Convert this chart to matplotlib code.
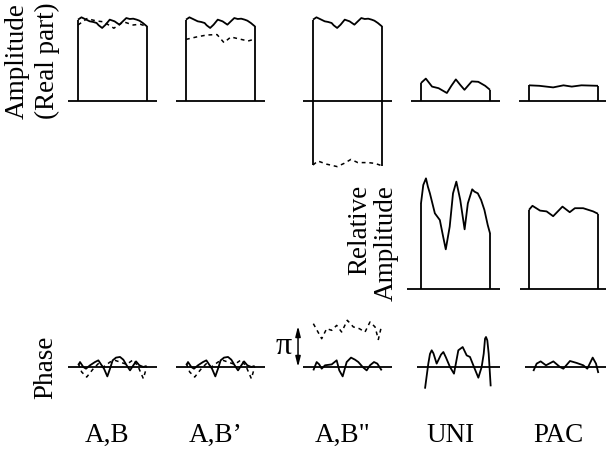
import numpy as np
import matplotlib
matplotlib.use("Agg")
import matplotlib.pyplot as plt

plt.rcParams['font.family'] = ['Liberation Serif', 'DejaVu Serif']

# --- datos -----------------------------------------------------------------
labels = ['A,B', 'A,B\u2019', 'A,B"', 'UNI', 'PAC']

# amplitud (parte real), curva continua comun a A,B / A,B' / A,B"
amp_t = [0, 0.05, 0.12, 0.17, 0.22, 0.27, 0.30, 0.35, 0.40, 0.46, 0.53,
         0.60, 0.65, 0.70, 0.75, 0.80, 0.85, 0.89, 0.94, 0.98, 1.0]
amp_solid = [1.017, 1.046, 1.017, 0.996, 0.988, 0.975, 0.946, 0.913, 0.954,
             1.017, 0.996, 0.954, 0.996, 1.037, 1.025, 1.029, 1.017, 1.004,
             0.975, 0.946, 0.933]

ab_dash_t = [0, 0.13, 0.27, 0.37, 0.52, 0.66, 0.80, 0.90, 0.97]
ab_dash = [0.95, 1.03, 1.00, 0.99, 0.91, 0.99, 0.95, 0.96, 0.94]

abp_dash_t = [0, 0.15, 0.30, 0.45, 0.55, 0.65, 0.80, 0.90, 1.0]
abp_dash = [0.77, 0.80, 0.825, 0.83, 0.73, 0.80, 0.77, 0.75, 0.775]

abpp_dash_t = [0, 0.07, 0.20, 0.35, 0.45, 0.55, 0.65, 0.80, 0.90, 1.0]
abpp_dash = [-0.80, -0.75, -0.79, -0.82, -0.78, -0.73, -0.77, -0.77, -0.78, -0.81]

uni_amp_t = [0, 0.07, 0.16, 0.255, 0.375, 0.44, 0.505, 0.57, 0.63, 0.68,
             0.736, 0.83, 0.93, 1.0]
uni_amp = [0.225, 0.28, 0.18, 0.16, 0.10, 0.19, 0.27, 0.20, 0.14, 0.19,
           0.245, 0.24, 0.19, 0.14]

pac_amp_t = [0, 0.15, 0.35, 0.50, 0.62, 0.76, 1.0]
pac_amp = [0.196, 0.19, 0.17, 0.196, 0.18, 0.196, 0.19]

# amplitud relativa
uni_rel_t = [0, 0.033, 0.072, 0.10, 0.129, 0.201, 0.273, 0.321, 0.359, 0.416,
             0.464, 0.512, 0.569, 0.632, 0.679, 0.742, 0.775, 0.823, 0.871,
             0.919, 0.967, 1.0]
uni_rel = [1.071, 1.30, 1.383, 1.279, 1.196, 0.946, 0.862, 0.654, 0.496, 0.779,
           1.196, 1.342, 1.113, 0.746, 1.071, 1.246, 1.217, 1.196, 1.113,
           0.988, 0.80, 0.696]

pac_rel_t = [0, 0.05, 0.16, 0.255, 0.35, 0.485, 0.59, 0.665, 0.785, 0.93, 1.0]
pac_rel = [0.99, 1.04, 0.98, 0.97, 0.91, 1.03, 0.96, 1.01, 1.01, 0.97, 0.94]

# fase (radianes)
ab_ph_t = [0.005, 0.029, 0.077, 0.116, 0.174, 0.246, 0.295, 0.343, 0.377,
           0.425, 0.464, 0.502, 0.551, 0.609, 0.657, 0.705, 0.754, 0.802,
           0.841, 0.889, 0.947, 0.995]
ab_ph = [0.13, 0.38, 0, -0.13, 0.13, 0.38, 0.51, 0.13, -0.13, -0.72, -0.13,
         0.51, 0.72, 0.77, 0.56, 0.13, -0.26, 0.13, 0.43, 0.13, 0, 0.08]

ab_ph_dash_t = [0.005, 0.053, 0.126, 0.222, 0.295, 0.367, 0.464, 0.536,
                0.609, 0.705, 0.802, 0.874, 0.947, 0.995]
ab_ph_dash = [0.26, -0.38, -0.77, -0.13, 0.26, 0, 0.38, 0.51, 0.38, 0.2,
              0.56, 0, -0.89, 0]

abpp_ph_t = [0.005, 0.053, 0.09, 0.126, 0.174, 0.271, 0.343, 0.381, 0.430,
             0.468, 0.488, 0.551, 0.609, 0.657, 0.720, 0.778, 0.826, 0.884,
             0.932, 0.995]
abpp_ph = [-0.26, 0.38, 0.2, -0.13, 0.13, 0.20, 0.51, -0.26, -0.72, 0, 0.38,
           0.72, 0.56, 0.38, 0, -0.26, 0.13, 0.38, 0.26, -0.26]

abpp_ph_dash_t = [0.005, 0.126, 0.198, 0.271, 0.343, 0.415, 0.497, 0.585,
                  0.671, 0.754, 0.826, 0.899, 0.947, 0.995]
abpp_ph_dash = [3.32, 2.17, 2.94, 2.81, 3.19, 2.68, 3.58, 3.07, 2.94, 2.68,
                3.45, 3.07, 2.11, 3.19]

uni_ph_t = [0.058, 0.106, 0.13, 0.155, 0.18, 0.227, 0.29, 0.324, 0.36, 0.42,
            0.478, 0.541, 0.604, 0.662, 0.71, 0.768, 0.831, 0.879, 0.909,
            0.928, 0.942, 0.961, 0.981, 1.01]
uni_ph = [-1.66, 0.26, 1.0, 1.28, 1.05, 0.26, 0.95, 1.15, 0.75, 0, -0.51,
          1.28, 1.53, 0.89, 0.77, 0, -0.82, 0, 1.02, 2.17, 2.30, 2.04, 1.02,
          -1.48]

pac_ph_t = [0.063, 0.111, 0.169, 0.246, 0.353, 0.449, 0.498, 0.594, 0.691,
            0.787, 0.845, 0.923, 0.971, 1.005]
pac_ph = [-0.31, 0.26, 0.43, 0.13, 0.43, 0, -0.13, 0.46, 0.31, 0.13, -0.13,
          0.72, 0.26, -0.46]

# --- disposicion (en pixeles de la imagen) --------------------------------
W_PX, H_PX = 606, 450
BOX_LEFT = [78, 186, 313, 421, 529]
BOX_W = 69
AMP_BASE, REL_BASE, PH_BASE = 101, 289, 367
AMP_SCALE = 80.0          # px por unidad de amplitud
PH_SCALE = 41.0 / np.pi   # px por radian (pi = 41 px)

fig = plt.figure(figsize=(6.06, 4.5), dpi=100)

LW = 1.3
DASH = (0, (2.5, 2.5))


def panel(col, base, scale, top, bottom):
    L = BOX_LEFT[col]
    lp, rp = L - 30, L + BOX_W + 30
    ax = fig.add_axes([lp / W_PX, 1 - bottom / H_PX,
                       (rp - lp) / W_PX, (bottom - top) / H_PX])
    ax.set_xlim((lp - L) / BOX_W, (rp - L) / BOX_W)
    ax.set_ylim((base - bottom) / scale, (base - top) / scale)
    ax.axis('off')
    return ax


def line(ax, x, y, dashed=False):
    ax.plot(x, y, color='black', lw=1.1 if dashed else LW,
            linestyle=DASH if dashed else '-', clip_on=False,
            solid_joinstyle='round', solid_capstyle='butt')


def box(ax, t, v, ext, low=(0, 0)):
    line(ax, ext, [0, 0])
    line(ax, t, v)
    line(ax, [t[0], t[0]], [low[0], v[0]])
    line(ax, [t[-1], t[-1]], [low[1], v[-1]])


# fila 1: amplitud (parte real)
ax = panel(0, AMP_BASE, AMP_SCALE, 0, 175)
box(ax, amp_t, amp_solid, [-0.145, 1.145])
line(ax, ab_dash_t, ab_dash, dashed=True)

ax = panel(1, AMP_BASE, AMP_SCALE, 0, 175)
box(ax, amp_t, amp_solid, [-0.145, 1.145])
line(ax, abp_dash_t, abp_dash, dashed=True)

ax = panel(2, AMP_BASE, AMP_SCALE, 0, 175)
box(ax, amp_t, amp_solid, [-0.145, 1.145], low=(abpp_dash[0], abpp_dash[-1]))
line(ax, abpp_dash_t, abpp_dash, dashed=True)

ax = panel(3, AMP_BASE, AMP_SCALE, 0, 175)
box(ax, uni_amp_t, uni_amp, [-0.145, 1.145])

ax = panel(4, AMP_BASE, AMP_SCALE, 0, 175)
box(ax, pac_amp_t, pac_amp, [-0.145, 1.12])

# fila 2: amplitud relativa
ax = panel(3, REL_BASE, AMP_SCALE, 170, 300)
box(ax, uni_rel_t, uni_rel, [-0.2, 1.145])

ax = panel(4, REL_BASE, AMP_SCALE, 170, 300)
box(ax, pac_rel_t, pac_rel, [-0.13, 1.12])

# fila 3: fase
for col in (0, 1):
    ax = panel(col, PH_BASE, PH_SCALE, 300, 400)
    line(ax, [-0.145, 1.145], [0, 0])
    line(ax, ab_ph_t, ab_ph)
    line(ax, ab_ph_dash_t, ab_ph_dash, dashed=True)

ax = panel(2, PH_BASE, PH_SCALE, 300, 400)
line(ax, [-0.145, 1.145], [0, 0])
line(ax, abpp_ph_t, abpp_ph)
line(ax, abpp_ph_dash_t, abpp_ph_dash, dashed=True)
ax.annotate('', xy=(-0.217, np.pi), xytext=(-0.217, 0),
            arrowprops=dict(arrowstyle='<|-|>,head_length=0.6,head_width=0.15',
                            color='black', lw=1.1, mutation_scale=10,
                            shrinkA=0, shrinkB=0),
            annotation_clip=False)

ax = panel(3, PH_BASE, PH_SCALE, 300, 400)
line(ax, [-0.06, 1.14], [0, 0])
line(ax, uni_ph_t, uni_ph)

ax = panel(4, PH_BASE, PH_SCALE, 300, 400)
line(ax, [-0.06, 1.12], [0, 0])
line(ax, pac_ph_t, pac_ph)


# --- textos ----------------------------------------------------------------
def ftext(x, y, s, **kw):
    fig.text(x / W_PX, 1 - y / H_PX, s, **kw)


FS = 19.5
ftext(17, 61, 'Amplitude', rotation=90, ha='center', va='center', fontsize=FS)
ftext(47, 61, '(Real part)', rotation=90, ha='center', va='center', fontsize=FS)
ftext(360, 185, 'Relative', rotation=90, ha='center', va='top', fontsize=FS)
ftext(386, 185, 'Amplitude', rotation=90, ha='center', va='top', fontsize=FS)
ftext(46, 367, 'Phase', rotation=90, ha='center', va='center', fontsize=FS)
ftext(284, 347, '\u03c0', ha='center', va='center', fontsize=23)

for col, lab in enumerate(labels):
    ftext(BOX_LEFT[col] + BOX_W / 2 - 5, 435, lab, ha='center', va='center',
          fontsize=FS)

fig.savefig('out.png', dpi=100)
